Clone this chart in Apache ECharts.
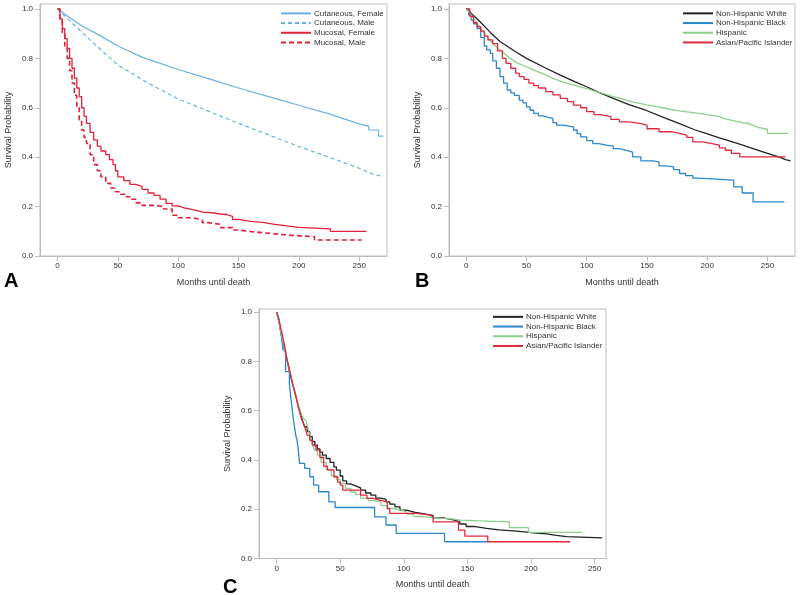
<!DOCTYPE html>
<html><head><meta charset="utf-8">
<script src="https://cdn.jsdelivr.net/npm/echarts@6/dist/echarts.min.js"></script>
<style>html,body{margin:0;padding:0;background:#fff}#c{width:800px;height:595px}</style>
</head><body><div id="c"></div>
<script>
// ---------- tick labels ----------
const xTicks = [0, 50, 100, 150, 200, 250];
const yTicks = [0, 0.2, 0.4, 0.6, 0.8, 1.0];
const xName = 'Months until death';
const yName = 'Survival Probability';

// ---------- Panel A ----------
const namesA = ['Cutaneous, Female', 'Cutaneous, Male', 'Mucosal, Female', 'Mucosal, Male'];
const cutFemaleMonths = [0, 10, 20, 35, 50, 70, 100, 125, 150, 175, 200, 225, 250, 258, 258, 266, 266, 270];
const cutFemaleSurv = [1.0, 0.965, 0.932, 0.893, 0.85, 0.805, 0.755, 0.718, 0.68, 0.645, 0.61, 0.575, 0.535, 0.525, 0.51, 0.51, 0.485, 0.485];
const cutMaleMonths = [0, 10, 24, 50, 75, 100, 118, 150, 175, 200, 225, 250, 262, 270];
const cutMaleSurv = [1.0, 0.953, 0.888, 0.773, 0.70, 0.635, 0.60, 0.537, 0.49, 0.443, 0.40, 0.355, 0.33, 0.322];
const mucFemaleMonths = [0, 2, 4, 6, 8, 10, 12, 14, 16, 18, 20, 22, 24, 27, 30, 33, 36, 40, 43, 46, 48, 50, 55, 60, 65, 70, 75, 80, 85, 90, 95, 100, 105, 110, 115, 120, 128, 135, 140, 145, 150, 160, 170, 180, 190, 200, 226, 256];
const mucFemaleSurv = [1.0, 0.96, 0.92, 0.88, 0.84, 0.80, 0.76, 0.72, 0.68, 0.645, 0.60, 0.565, 0.537, 0.50, 0.47, 0.445, 0.425, 0.41, 0.39, 0.37, 0.345, 0.32, 0.305, 0.29, 0.282, 0.27, 0.255, 0.245, 0.23, 0.213, 0.203, 0.195, 0.19, 0.185, 0.178, 0.175, 0.17, 0.168, 0.16, 0.148, 0.14, 0.136, 0.128, 0.122, 0.116, 0.11, 0.10, 0.10];
const mucMaleMonths = [0, 2, 4, 6, 8, 10, 12, 14, 16, 18, 20, 22, 24, 27, 30, 33, 36, 40, 44, 48, 52, 56, 60, 65, 70, 80, 88, 95, 100, 110, 115, 120, 125, 135, 145, 150, 160, 175, 190, 213, 252];
const mucMaleSurv = [1.0, 0.95, 0.90, 0.85, 0.80, 0.75, 0.70, 0.65, 0.60, 0.55, 0.51, 0.48, 0.456, 0.41, 0.37, 0.345, 0.32, 0.294, 0.275, 0.26, 0.25, 0.24, 0.23, 0.215, 0.205, 0.20, 0.19, 0.165, 0.155, 0.152, 0.145, 0.135, 0.128, 0.115, 0.105, 0.099, 0.092, 0.085, 0.078, 0.065, 0.065];

// ---------- Panel B ----------
const namesRace = ['Non-Hispanic White', 'Non-Hispanic Black', 'Hispanic', 'Asian/Pacific Islander'];
const nhwBMonths = [0, 10, 20, 28, 40, 50, 65, 78, 90, 100, 110, 122, 135, 149, 163, 177, 190, 199, 210, 221, 230, 238, 250, 260, 265, 269];
const nhwBSurv = [1.0, 0.955, 0.905, 0.868, 0.83, 0.80, 0.763, 0.732, 0.706, 0.685, 0.662, 0.638, 0.613, 0.59, 0.562, 0.536, 0.51, 0.496, 0.478, 0.462, 0.448, 0.435, 0.415, 0.40, 0.39, 0.385];
const nhbBMonths = [0, 2, 4, 6, 9, 12, 15, 17, 20, 22, 25, 28, 31, 34, 37, 40, 44, 47, 50, 53, 56, 60, 64, 67, 72, 75, 80, 89, 92, 95, 100, 105, 110, 116, 122, 127, 133, 138, 145, 155, 160, 166, 172, 177, 182, 188, 193, 222, 229, 238, 264];
const nhbBSurv = [1.0, 0.975, 0.955, 0.94, 0.92, 0.885, 0.85, 0.834, 0.82, 0.79, 0.76, 0.726, 0.70, 0.672, 0.66, 0.65, 0.631, 0.62, 0.604, 0.59, 0.577, 0.567, 0.562, 0.557, 0.54, 0.53, 0.523, 0.51, 0.495, 0.482, 0.467, 0.455, 0.449, 0.445, 0.435, 0.428, 0.42, 0.401, 0.385, 0.381, 0.365, 0.361, 0.35, 0.334, 0.325, 0.315, 0.307, 0.28, 0.255, 0.219, 0.219];
const hispBMonths = [0, 5, 10, 17, 22, 28, 35, 42, 50, 58, 65, 72, 80, 89, 100, 111, 120, 130, 138, 150, 160, 166, 175, 185, 193, 200, 210, 215, 226, 235, 243, 250, 250, 267];
const hispBSurv = [1.0, 0.97, 0.935, 0.89, 0.86, 0.834, 0.805, 0.782, 0.766, 0.748, 0.735, 0.719, 0.705, 0.692, 0.677, 0.661, 0.648, 0.635, 0.624, 0.612, 0.603, 0.597, 0.588, 0.582, 0.577, 0.572, 0.564, 0.555, 0.543, 0.535, 0.52, 0.513, 0.496, 0.496];
const apiBMonths = [0, 3, 6, 9, 12, 15, 18, 22, 26, 30, 33, 37, 41, 44, 48, 52, 56, 60, 66, 72, 78, 84, 89, 95, 100, 106, 111, 120, 127, 135, 144, 150, 160, 170, 177, 183, 188, 196, 204, 210, 215, 220, 227, 265];
const apiBSurv = [1.0, 0.97, 0.945, 0.928, 0.91, 0.89, 0.875, 0.86, 0.83, 0.80, 0.78, 0.76, 0.74, 0.726, 0.715, 0.70, 0.69, 0.68, 0.665, 0.652, 0.638, 0.625, 0.611, 0.60, 0.584, 0.572, 0.564, 0.553, 0.543, 0.537, 0.53, 0.515, 0.503, 0.496, 0.489, 0.48, 0.462, 0.455, 0.449, 0.438, 0.428, 0.415, 0.401, 0.401];

// ---------- Panel C ----------
const nhwCMonths = [0,1,2,3,4,5,6,7,8,9,10,11,12,13,14,15,16,17,18,19,20,21,22,24,26,28,30,32,34,36,39,42,45,47,50,52,55,58,62,66,70,74,78,82,86,89,93,97,102,108,115,123,131,139,144,149,155,165,175,186,195,202,212,220,228,256];
const nhwCSurv = [1.0,0.98,0.955,0.925,0.90,0.875,0.855,0.835,0.81,0.785,0.76,0.74,0.72,0.70,0.68,0.66,0.64,0.617,0.60,0.583,0.566,0.549,0.535,0.515,0.495,0.475,0.46,0.445,0.432,0.42,0.406,0.39,0.372,0.359,0.335,0.315,0.303,0.295,0.287,0.278,0.266,0.257,0.245,0.24,0.23,0.221,0.21,0.196,0.188,0.182,0.175,0.165,0.157,0.15,0.14,0.13,0.122,0.116,0.112,0.108,0.104,0.10,0.094,0.089,0.084,0.084];
const nhbCMonths = [0,1,2,3,4,5,7,10,11,12,13,14,15,16,17,18,22,26,29,33,41,46,77,86,94,132,166];
const nhbCSurv = [1.0,0.985,0.969,0.928,0.89,0.847,0.759,0.711,0.657,0.617,0.57,0.535,0.50,0.481,0.44,0.386,0.366,0.332,0.298,0.271,0.23,0.207,0.169,0.136,0.102,0.068,0.068];
const hispCMonths = [0,1,2,3,4,5,6,7,8,9,10,11,12,13,14,15,16,17,18,19,20,21,22,23,24,25,26,27,28,29,30,32,35,39,43,47,50,54,58,62,66,72,77,82,87,92,97,102,108,115,123,130,139,144,183,198,240];
const hispCSurv = [1.0,0.975,0.955,0.93,0.905,0.88,0.86,0.835,0.81,0.79,0.765,0.745,0.72,0.70,0.68,0.66,0.64,0.625,0.61,0.595,0.58,0.568,0.56,0.555,0.54,0.52,0.50,0.48,0.465,0.45,0.44,0.42,0.39,0.36,0.335,0.32,0.305,0.285,0.27,0.26,0.245,0.235,0.23,0.215,0.203,0.197,0.19,0.18,0.17,0.166,0.163,0.16,0.156,0.149,0.125,0.106,0.106];
const apiCMonths = [0,1,2,3,4,5,6,7,8,9,10,11,12,13,14,15,16,17,18,19,20,21,22,23,24,26,28,29,31,34,37,40,45,48,50,52,66,71,76,81,87,89,110,121,123,143,148,166,231];
const apiCSurv = [1.0,0.985,0.965,0.94,0.92,0.895,0.87,0.84,0.81,0.79,0.77,0.745,0.72,0.70,0.68,0.66,0.64,0.615,0.595,0.575,0.56,0.55,0.535,0.52,0.50,0.48,0.462,0.455,0.44,0.41,0.375,0.36,0.332,0.31,0.298,0.278,0.257,0.244,0.237,0.23,0.203,0.183,0.176,0.169,0.149,0.115,0.091,0.068,0.068];

const panelLetters = ['A', 'B', 'C'];

// ---------- styling ----------
const FONT = '"Liberation Sans", Arial, Helvetica, sans-serif';
const GRAY = '#bdbdbd';
const TXT = '#333';
const C_CUT = '#6cb0e0', C_MUC = '#e0203c';
const C_NHW = '#222222', C_NHB = '#2b88cc', C_HISP = '#8ccf8c', C_API = '#e0283f';

function pairs(m, s) { return m.map((v, i) => [v, s[i]]); }

function mkX(gi, min, max) {
  return {
    type: 'value', gridIndex: gi, min: min, max: max,
    axisLine: { show: true, onZero: false, lineStyle: { color: GRAY, width: 1 } },
    axisTick: { show: true, length: 5, customValues: xTicks, lineStyle: { color: GRAY } },
    axisLabel: { customValues: xTicks, fontSize: 8, color: TXT, margin: 6, fontFamily: FONT },
    splitLine: { show: false },
    name: xName, nameLocation: 'middle', nameGap: 22,
    nameTextStyle: { fontSize: 9, color: TXT, fontFamily: FONT }
  };
}
function mkY(gi, max) {
  return {
    type: 'value', gridIndex: gi, min: 0, max: max,
    axisLine: { show: true, onZero: false, lineStyle: { color: GRAY, width: 1 } },
    axisTick: { show: true, length: 5, customValues: yTicks, lineStyle: { color: GRAY } },
    axisLabel: { customValues: yTicks, fontSize: 8, color: TXT, margin: 7, fontFamily: FONT,
      formatter: v => v.toFixed(1) },
    splitLine: { show: false },
    name: yName, nameLocation: 'middle', nameGap: 27,
    nameTextStyle: { fontSize: 9, color: TXT, fontFamily: FONT }
  };
}
function mkS(gi, name, m, s, color, opts) {
  opts = opts || {};
  return {
    type: 'line', name: name, xAxisIndex: gi, yAxisIndex: gi,
    data: pairs(m, s), step: opts.step ? 'end' : false,
    symbol: 'none', showSymbol: false, animation: false,
    lineStyle: { color: color, width: opts.width || 1.3, type: opts.dash || 'solid' },
    itemStyle: { color: color }
  };
}
function mkLegend(left, top, names) {
  return {
    left: left, top: top, orient: 'vertical', align: 'left',
    itemWidth: 30, itemHeight: 8, itemGap: 0, padding: 0,
    itemStyle: { color: 'rgba(0,0,0,0)', borderColor: 'rgba(0,0,0,0)', borderWidth: 0, opacity: 0 },
    textStyle: { fontSize: 8, lineHeight: 9.7, color: TXT, fontFamily: FONT, padding: [0, 0, 0, -2] },
    data: names
  };
}

const chart = echarts.init(document.getElementById('c'), null, { renderer: 'canvas' });
chart.setOption({
  backgroundColor: '#fff',
  animation: false,
  grid: [
    { left: 40, top: 4, width: 347, height: 252, show: true, borderColor: GRAY, borderWidth: 1 },
    { left: 449, top: 4, width: 346, height: 252, show: true, borderColor: GRAY, borderWidth: 1 },
    { left: 259, top: 309, width: 347, height: 249.5, show: true, borderColor: GRAY, borderWidth: 1 }
  ],
  xAxis: [mkX(0, -14.5, 273), mkX(1, -14.3, 272.8), mkX(2, -13.9, 259)],
  yAxis: [mkY(0, 1.02), mkY(1, 1.02), mkY(2, 1.013)],
  legend: [
    mkLegend(280, 8.5, namesA),
    mkLegend(682, 8.5, namesRace),
    mkLegend(492, 312, namesRace)
  ],
  graphic: [
    { type: 'text', left: 4, top: 271, style: { text: panelLetters[0], font: 'bold 20px ' + FONT, fill: '#000' } },
    { type: 'text', left: 415, top: 271, style: { text: panelLetters[1], font: 'bold 20px ' + FONT, fill: '#000' } },
    { type: 'text', left: 223, top: 577, style: { text: panelLetters[2], font: 'bold 20px ' + FONT, fill: '#000' } }
  ],
  series: [
    mkS(0, namesA[0], cutFemaleMonths, cutFemaleSurv, C_CUT, { width: 1.2 }),
    mkS(0, namesA[1], cutMaleMonths, cutMaleSurv, C_CUT, { width: 1.2, dash: [4, 3] }),
    mkS(0, namesA[2], mucFemaleMonths, mucFemaleSurv, C_MUC, { step: true, width: 1.3 }),
    mkS(0, namesA[3], mucMaleMonths, mucMaleSurv, C_MUC, { step: true, width: 1.6, dash: [5, 3] }),

    mkS(1, namesRace[0], nhwBMonths, nhwBSurv, C_NHW, { width: 1.3 }),
    mkS(1, namesRace[1], nhbBMonths, nhbBSurv, C_NHB, { step: true }),
    mkS(1, namesRace[2], hispBMonths, hispBSurv, C_HISP, {}),
    mkS(1, namesRace[3], apiBMonths, apiBSurv, C_API, { step: true }),

    mkS(2, namesRace[0], nhwCMonths, nhwCSurv, C_NHW, { step: true }),
    mkS(2, namesRace[1], nhbCMonths, nhbCSurv, C_NHB, { step: true }),
    mkS(2, namesRace[2], hispCMonths, hispCSurv, C_HISP, { step: true }),
    mkS(2, namesRace[3], apiCMonths, apiCSurv, C_API, { step: true })
  ]
});
</script>
</body></html>
